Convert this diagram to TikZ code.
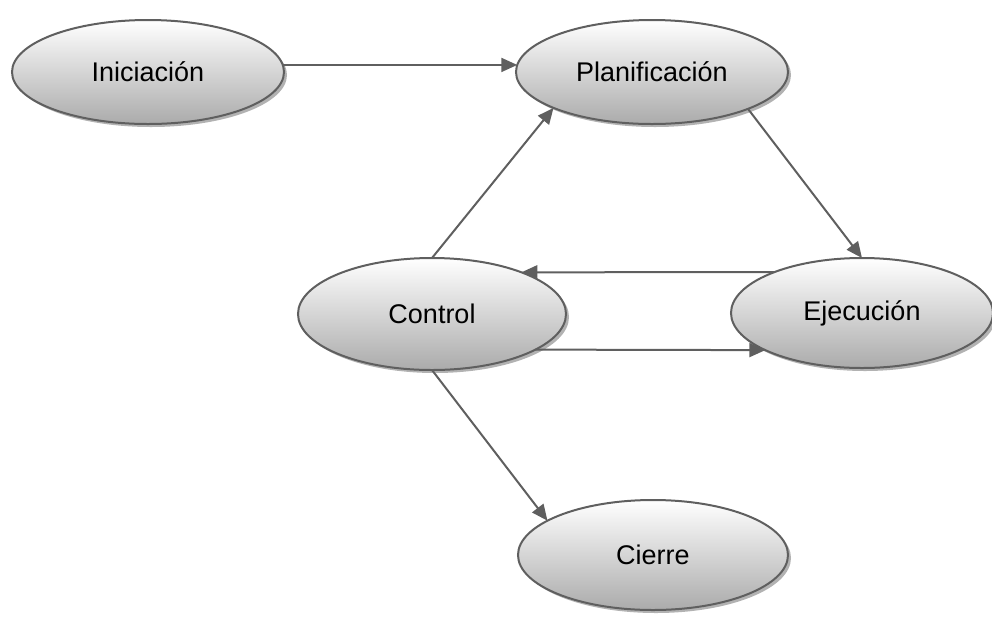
\documentclass[tikz,border=0pt]{standalone}
\usepackage{fontspec}
\setmainfont{Liberation Sans}
\usetikzlibrary{shapes.geometric,arrows.meta,shadows}
\definecolor{edge}{HTML}{5F5F5F}
\tikzset{
  phase/.style={ellipse, draw=edge, line width=1pt, inner sep=0pt, outer sep=0pt,
    minimum width=136pt, minimum height=52pt,
    top color=white, bottom color=black!33,
    drop shadow={shadow xshift=1.5pt, shadow yshift=-1.5pt, fill=black!30, opacity=1},
    font=\fontsize{13.5pt}{16pt}\selectfont},
  flow/.style={draw=edge, line width=1pt, -{Triangle[length=8pt,width=7pt]}}
}
\begin{document}
\begin{tikzpicture}[x=0.5pt,y=-0.5pt]
  \useasboundingbox (0,0) rectangle (992,617);
  \node[phase] (ini)  at (148,72)  {Iniciación};
  \node[phase] (plan) at (652,72)  {Planificación};
  \node[phase, minimum height=56pt, minimum width=134pt] (ctrl) at (432,314) {Control};
  \node[phase, minimum height=55pt, minimum width=131pt] (ejec) at (862,313) {Ejecución};
  \node[phase, minimum height=55pt, minimum width=135pt] (cier) at (653,555) {Cierre};

  \draw[flow] (ini.3) -- (plan.177);
  \draw[flow] (ctrl.north) -- (plan.200);
  \draw[flow] (plan.-21) -- (ejec.north);
  \draw[flow] (ejec.155) -- (ctrl.25);
  \draw[flow] (ctrl.-19) -- (ejec.201);
  \draw[flow] (ctrl.south) -- (cier.162);
\end{tikzpicture}
\end{document}
